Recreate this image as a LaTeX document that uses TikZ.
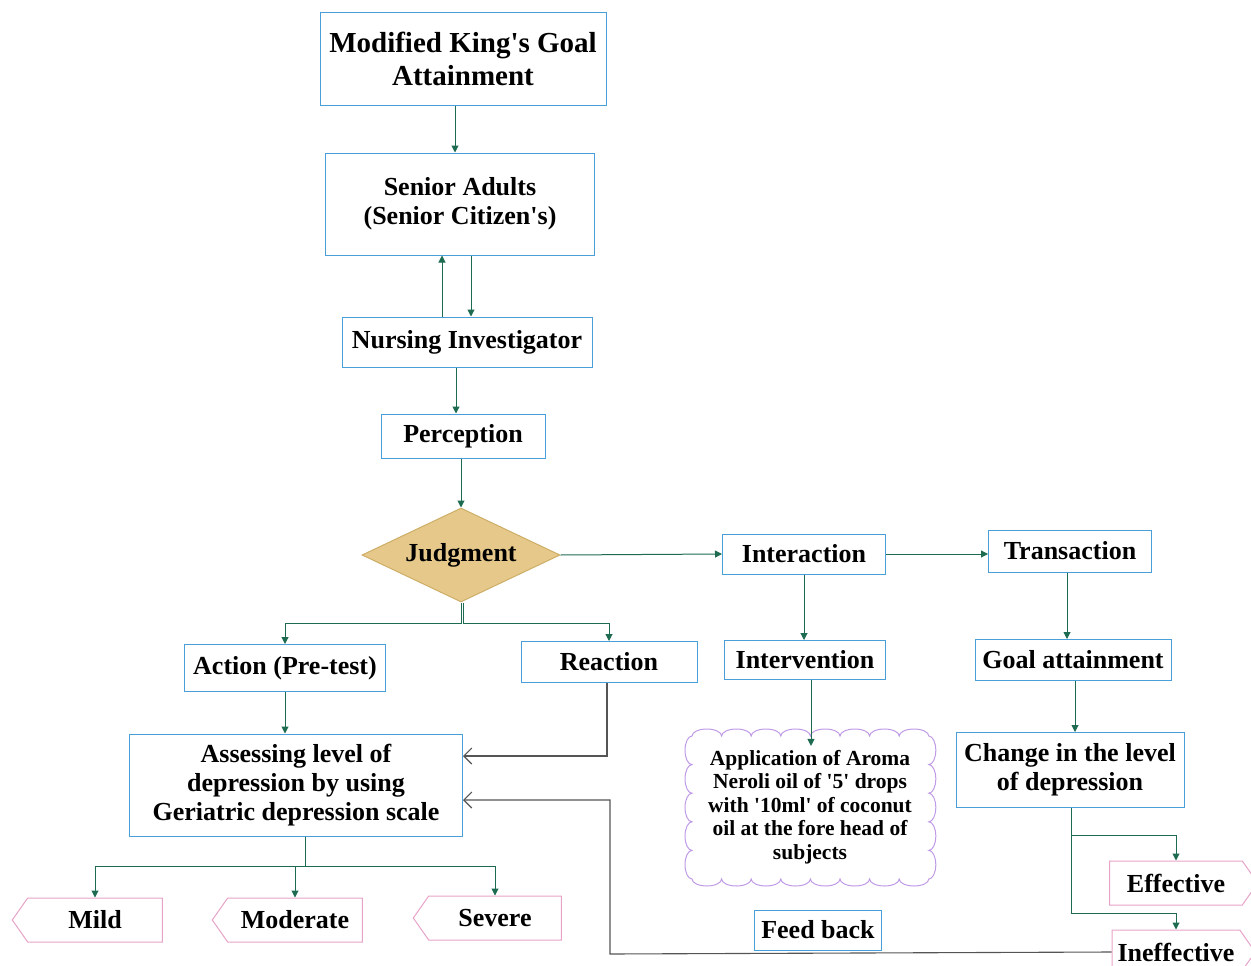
\documentclass[tikz,border=0pt]{standalone}
\usepackage{fontspec}
\setmainfont{Liberation Serif}
\usetikzlibrary{arrows.meta,shapes.geometric,shapes.symbols}
\definecolor{boxblue}{HTML}{4A9FD8}
\definecolor{signpink}{HTML}{E8A3C9}
\definecolor{aromalilac}{HTML}{C09AE6}
\definecolor{judgfill}{HTML}{E6C98A}
\definecolor{judgline}{HTML}{CDAE66}
\definecolor{arrgreen}{HTML}{1D6B50}
\definecolor{fbgray}{HTML}{555555}
\newcommand{\lbl}{\bfseries\fontsize{26}{29}\selectfont}
\newcommand{\q}{\textquotesingle}

\tikzset{
  blueframe/.style={draw=boxblue, line width=1pt, fill=white, align=center, inner sep=2pt, font=\lbl},
  pinksign/.style={draw=signpink, line width=1pt, fill=white, shape=signal, signal pointer angle=110,
    inner sep=2pt, minimum height=44pt, font=\lbl},
  judgbox/.style={draw=judgline, line width=1pt, fill=judgfill, shape=diamond, shape aspect=2.1,
    inner sep=0pt, minimum width=198pt, minimum height=94pt, font=\lbl},
  aromacloud/.style={align=center, inner sep=0pt, font=\bfseries\fontsize{21.5}{23.5}\selectfont},
  arr/.style={draw=arrgreen, line width=1pt, -{Triangle[length=7pt,width=7pt]}},
  fbarr/.style={draw=fbgray, line width=1.1pt, -{Straight Barb[length=8pt,width=16pt]}}
}

\begin{document}
\begin{tikzpicture}[x=1pt, y=-1pt]
  \useasboundingbox (0,0) rectangle (1251,966);

  %%%%% NODES %%%%%
  \node[blueframe, minimum width=286pt, minimum height=92pt, font=\bfseries\fontsize{29}{33}\selectfont]
    (king) at (463,59) {Modified King\q s Goal\\Attainment};
  \node[blueframe, minimum width=269pt, minimum height=102pt] (senior) at (460,204) {Senior Adults\\(Senior Citizen\q s)};
  \node[blueframe, minimum width=250pt, minimum height=50pt] (nursing) at (467,342) {Nursing Investigator};
  \node[blueframe, minimum width=164pt, minimum height=44pt] (percep) at (463,436) {Perception};
  \node[judgbox] (judg) at (461,555) {Judgment};

  \node[blueframe, minimum width=163pt, minimum height=40pt] (inter) at (804,554) {Interaction};
  \node[blueframe, minimum width=163pt, minimum height=42pt] (trans) at (1070,551) {Transaction};

  \node[blueframe, minimum width=201pt, minimum height=47pt] (action) at (285,668) {Action (Pre-test)};
  \node[blueframe, minimum width=176pt, minimum height=41pt] (react) at (609,662) {Reaction};
  \node[blueframe, minimum width=161pt, minimum height=39pt] (interv) at (805,660) {Intervention};
  \node[blueframe, minimum width=196pt, minimum height=41pt] (goal) at (1073,660) {Goal attainment};

  \node[blueframe, minimum width=333pt, minimum height=102pt] (assess) at (296,785)
    {Assessing level of\\depression by using\\Geriatric depression scale};

  % scalloped frame round the aroma text
  \draw[aromalilac, line width=1pt] (692,736)
    foreach \i in {1,...,8} {arc[start angle=180, end angle=0, x radius=14.8pt, y radius=7pt]}
    foreach \i in {1,...,5} {arc[start angle=90, end angle=-90, x radius=7pt, y radius=14.3pt]}
    foreach \i in {1,...,8} {arc[start angle=0, end angle=-180, x radius=14.8pt, y radius=7pt]}
    foreach \i in {1,...,5} {arc[start angle=-90, end angle=-270, x radius=7pt, y radius=14.3pt]}
    -- cycle;
  \node[aromacloud] (aroma) at (810,807)
    {Application of Aroma\\Neroli oil of \q 5\q\ drops\\with \q 10ml\q\ of coconut\\oil at the fore head of\\subjects};
  \node[blueframe, minimum width=228pt, minimum height=75pt] (change) at (1070,770) {Change in the level\\of depression};

  \node[pinksign, signal to=east, minimum width=148pt] (effect) at (1176,883) {Effective};
  \node[pinksign, signal to=east, minimum width=143pt] (ineffect) at (1176,952) {Ineffective};

  \node[pinksign, signal to=west, minimum width=150pt] (mild) at (95,920) {Mild};
  \node[pinksign, signal to=west, minimum width=150pt] (moderate) at (295,920) {Moderate};
  \node[pinksign, signal to=west, minimum width=148pt] (severe) at (495,918) {Severe};

  \node[blueframe, minimum width=127pt, minimum height=40pt] (feedback) at (818,930) {Feed back};

  %%%%% ARROWS %%%%%
  \draw[arr] ([xshift=-8pt]king.south) -- ([xshift=-5pt]senior.north);
  \draw[arr] ([xshift=-25pt]nursing.north) -- ([xshift=-18pt]senior.south);
  \draw[arr] ([xshift=11pt]senior.south) -- ([xshift=4pt]nursing.north);
  \draw[arr] ([xshift=-11pt]nursing.south) -- ([xshift=-7pt]percep.north);
  \draw[arr] ([xshift=-2pt]percep.south) -- (judg.north);

  \draw[arr] (judg.east) -- (inter.west);
  \draw[arr] (inter.east) -- (inter.east -| trans.west);

  \draw[arr] (judg.south) -- ++(0,21) -| (action.north);
  \draw[arr] ([xshift=2pt]judg.south) -- ++(0,21) -| (react.north);
  \draw[arr] (action.south) -- (action.south |- assess.north);
  \draw[fbarr] ([xshift=-2pt]react.south) |- ([yshift=29pt]assess.east);

  \draw[arr] (inter.south) -- (inter.south |- interv.north);
  \draw[arr] ([xshift=6pt]interv.south) -- ([xshift=1pt,yshift=4pt]aroma.north);
  \draw[arr] ([xshift=-3pt]trans.south) -- ([xshift=-6pt]goal.north);
  \draw[arr] ([xshift=2pt]goal.south) -- ([xshift=5pt]change.north);

  \draw[arr] ([xshift=9pt]assess.south) -- ++(0,30) -| (mild.north);
  \draw[arr] ([xshift=9pt]assess.south) -- ++(0,30) -| (moderate.north);
  \draw[arr] ([xshift=9pt]assess.south) -- ++(0,30) -| (severe.north);

  \draw[arr] ([xshift=1pt]change.south) -- ++(0,27) -| (effect.north);
  \draw[arr] ([xshift=1pt]change.south) -- ++(0,105) -| (ineffect.north);

  \coordinate (fbturn) at (610,954);
  \draw[fbarr] (ineffect.west) -- (fbturn) |- ([yshift=-15pt]assess.east);
\end{tikzpicture}
\end{document}
